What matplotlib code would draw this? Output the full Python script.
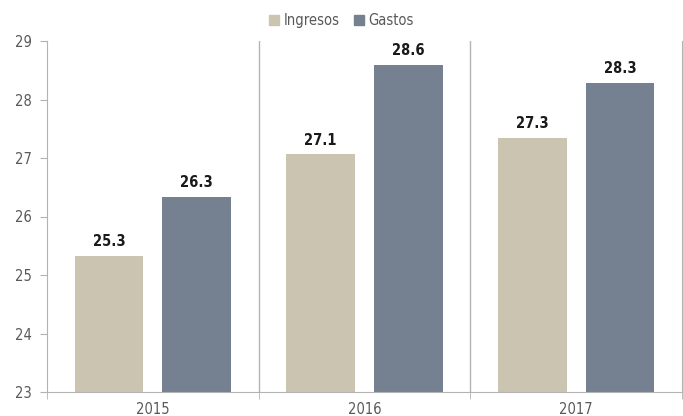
import numpy as np
import matplotlib
matplotlib.use("Agg")
import matplotlib.pyplot as plt
from matplotlib.patches import Patch

years = ["2015", "2016", "2017"]
ingresos = [25.32, 27.06, 27.34]
gastos = [26.33, 28.59, 28.29]
series_names = ["Ingresos", "Gastos"]

plt.rcParams["font.family"] = ["DejaVu Sans"]
plt.rcParams["font.stretch"] = "condensed"

c_ing = "#cbc4b0"
c_gas = "#758190"
grey_txt = "#595959"
grey_line = "#b3b3b3"

fig = plt.figure(figsize=(6.83, 4.16), dpi=100)
ax = fig.add_axes([47 / 683, 24 / 416, 635 / 683, 351 / 416])

x = np.arange(len(years))
w = 0.325
off = 0.207
b1 = ax.bar(x - off, np.array(ingresos) - 23, w, bottom=23, color=c_ing)
b2 = ax.bar(x + off, np.array(gastos) - 23, w, bottom=23, color=c_gas)

# etiquetas de valor sobre cada barra
for bars, vals in ((b1, ingresos), (b2, gastos)):
    for r, v in zip(bars, vals):
        ax.annotate(f"{v:.1f}", (r.get_x() + r.get_width() / 2, v),
                    xytext=(0, 5), textcoords="offset points",
                    ha="center", va="bottom", fontsize=10.5,
                    fontweight="semibold", color="#1a1a1a")

ax.set_xlim(-0.5, len(years) - 0.5)
ax.set_ylim(23, 29)
ax.set_yticks(range(23, 30))
ax.set_xticks(x)
ax.set_xticklabels(years)
ax.set_xticks(np.arange(-0.5, len(years)), minor=True)
ax.tick_params(axis="x", which="major", length=0, labelsize=10.5, colors=grey_txt, pad=7)
ax.tick_params(axis="x", which="minor", length=5, color=grey_line, direction="out")
ax.tick_params(axis="y", length=5, color=grey_line, labelsize=10.5, colors=grey_txt, pad=6)

for sep in np.arange(0.5, len(years) - 0.5):
    ax.axvline(sep, color=grey_line, lw=1)

ax.spines["top"].set_visible(False)
for s in ("left", "bottom", "right"):
    ax.spines[s].set_color(grey_line)

handles = [Patch(color=c_ing), Patch(color=c_gas)]
fig.legend(handles, series_names, loc="upper center", bbox_to_anchor=(0.5, 1.0),
           ncol=2, frameon=False, fontsize=10.5, handlelength=0.7, handleheight=0.7,
           handletextpad=0.3, columnspacing=1.0, labelcolor=grey_txt)

fig.savefig("out.png", dpi=100)
